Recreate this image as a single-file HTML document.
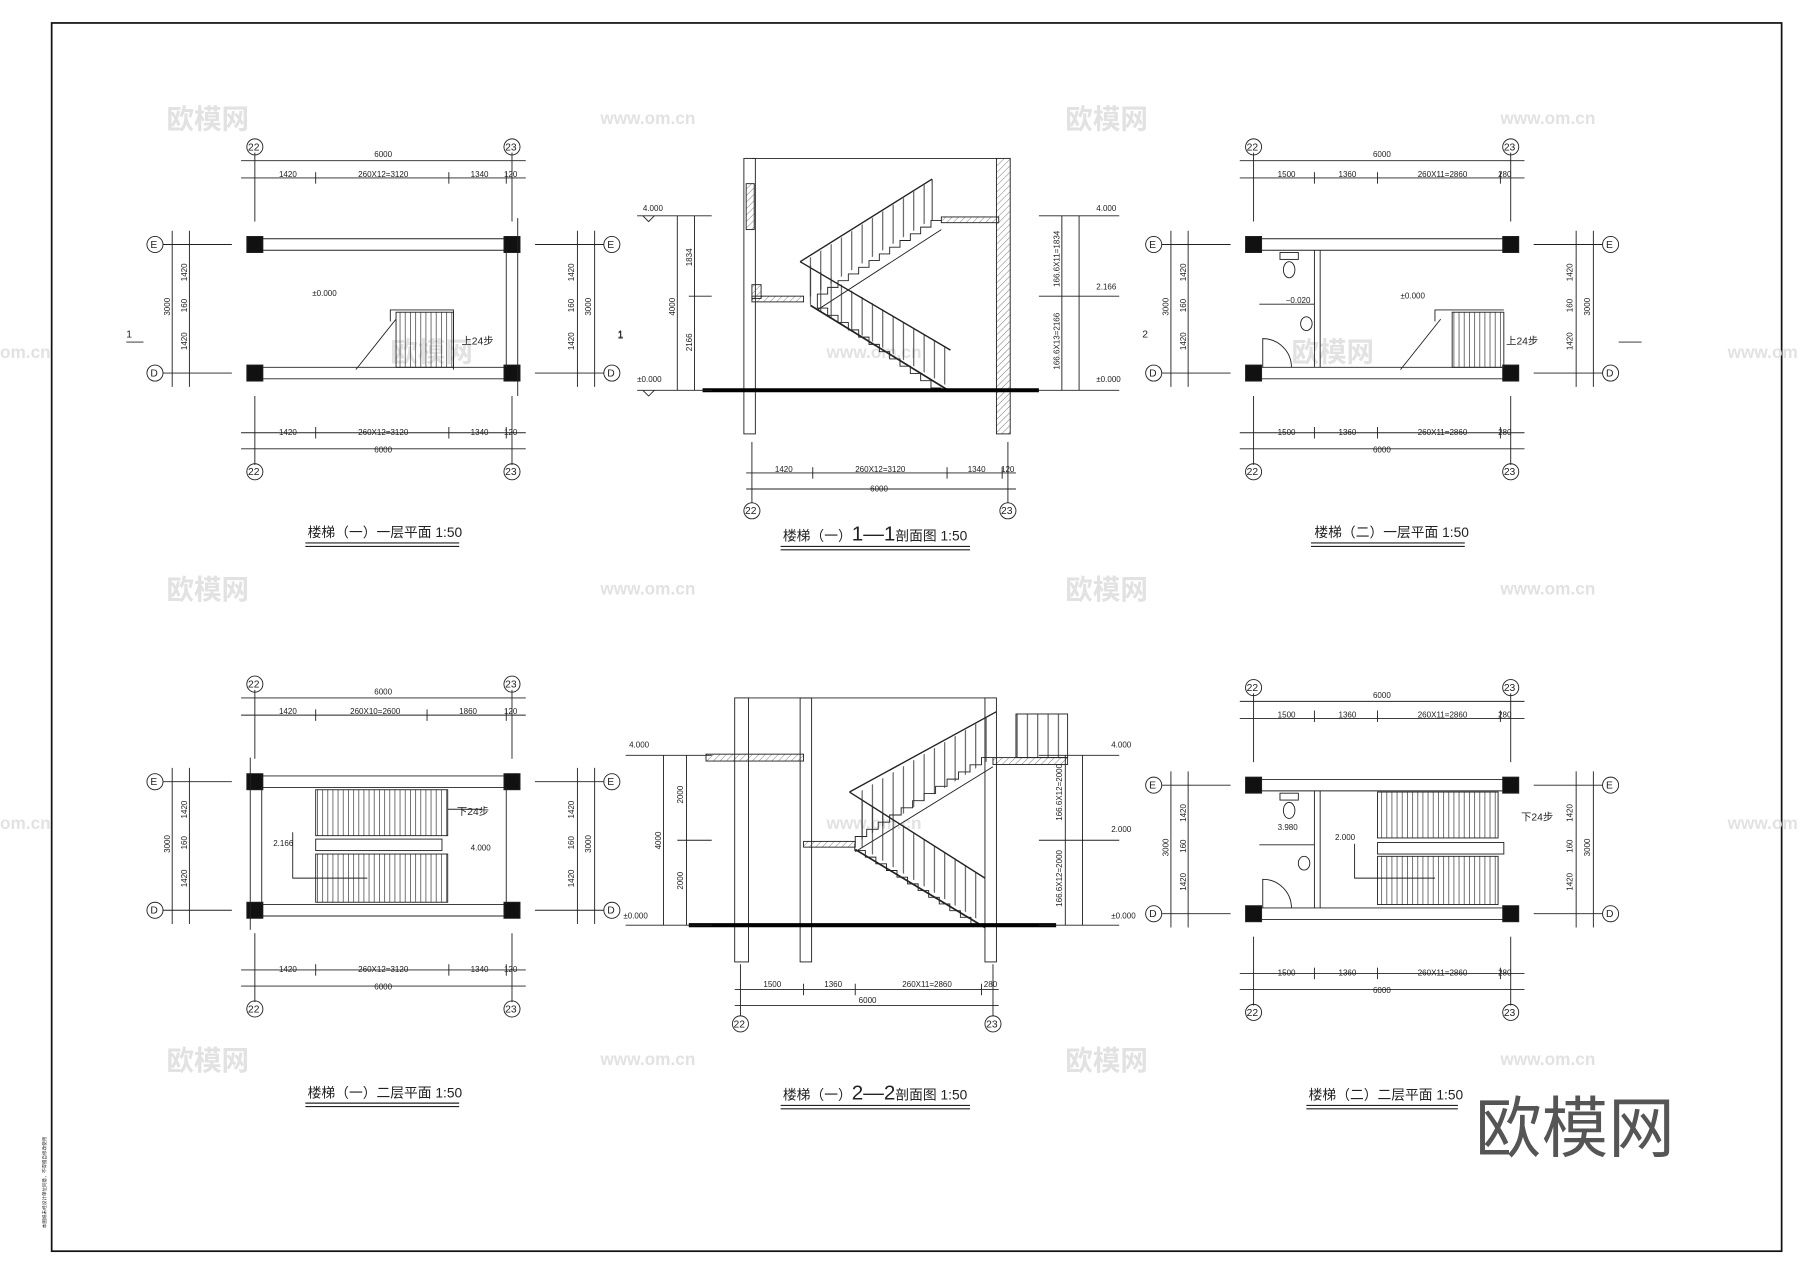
<!DOCTYPE html>
<html><head><meta charset="utf-8"><style>
html,body{margin:0;padding:0;background:#fff;}
svg{display:block;}
text{font-family:"Liberation Sans","Noto Sans CJK SC",sans-serif;fill:#222;}
.d{font-size:7px;}
.b{font-size:9px;}
.t{font-size:12px;}
.wm{font-size:24px;fill:#e2e2e2;font-weight:bold;}
.wu{font-size:15px;fill:#e2e2e2;font-weight:bold;}
</style></head><body>
<svg width="1800" height="1273" viewBox="0 0 1568 1109" preserveAspectRatio="none" xmlns="http://www.w3.org/2000/svg">
<defs>
<pattern id="vb" width="9" height="10" patternUnits="userSpaceOnUse"><line x1="4" y1="0" x2="4" y2="10" stroke="#333" stroke-width="0.8"/></pattern>
<pattern id="tr" width="4.5" height="10" patternUnits="userSpaceOnUse"><line x1="2" y1="0" x2="2" y2="10" stroke="#333" stroke-width="0.6"/></pattern>
<pattern id="ht" width="4" height="4" patternUnits="userSpaceOnUse" patternTransform="rotate(45)"><line x1="0" y1="0" x2="0" y2="4" stroke="#444" stroke-width="0.6"/></pattern>
<g id="frame" stroke="#222" fill="none" stroke-width="0.8">
<line x1="0" y1="-5" x2="224" y2="-5"/><line x1="0" y1="5" x2="224" y2="5"/>
<line x1="0" y1="107" x2="224" y2="107"/><line x1="0" y1="117" x2="224" y2="117"/>
<line x1="-12" y1="-73" x2="236" y2="-73"/><line x1="-12" y1="-58" x2="236" y2="-58"/>
<line x1="0" y1="-80" x2="0" y2="-20"/><line x1="224" y1="-80" x2="224" y2="-20"/>
<line x1="-12" y1="164" x2="236" y2="164"/><line x1="-12" y1="178" x2="236" y2="178"/>
<line x1="0" y1="132" x2="0" y2="192"/><line x1="224" y1="132" x2="224" y2="192"/>
<circle cx="0" cy="-85" r="7"/><circle cx="224" cy="-85" r="7"/>
<circle cx="0" cy="198" r="7"/><circle cx="224" cy="198" r="7"/>
<line x1="-80" y1="0" x2="-20" y2="0"/><line x1="-80" y1="112" x2="-20" y2="112"/>
<line x1="-57" y1="-12" x2="-57" y2="124"/><line x1="-72" y1="-12" x2="-72" y2="124"/>
<line x1="244" y1="0" x2="304" y2="0"/><line x1="244" y1="112" x2="304" y2="112"/>
<line x1="281" y1="-12" x2="281" y2="124"/><line x1="296" y1="-12" x2="296" y2="124"/>
<circle cx="-87" cy="0" r="7"/><circle cx="-87" cy="112" r="7"/>
<circle cx="311" cy="0" r="7"/><circle cx="311" cy="112" r="7"/>
<rect x="-7" y="-7" width="14" height="14" fill="#111"/><rect x="217" y="-7" width="14" height="14" fill="#111"/>
<rect x="-7" y="105" width="14" height="14" fill="#111"/><rect x="217" y="105" width="14" height="14" fill="#111"/>
</g>
</defs>
<rect x="45" y="20" width="1507" height="1070" fill="none" stroke="#111" stroke-width="1.5"/>

<!-- watermarks -->
<text class="wm" x="145" y="112">欧模网</text><text class="wm" x="928" y="112">欧模网</text>
<text class="wm" x="145" y="522">欧模网</text><text class="wm" x="928" y="522">欧模网</text>
<text class="wm" x="145" y="932">欧模网</text><text class="wm" x="928" y="932">欧模网</text>
<text class="wm" x="340" y="315">欧模网</text><text class="wm" x="1125" y="315">欧模网</text>
<text class="wu" x="523" y="108">www.om.cn</text><text class="wu" x="1307" y="108">www.om.cn</text>
<text class="wu" x="523" y="518">www.om.cn</text><text class="wu" x="1307" y="518">www.om.cn</text>
<text class="wu" x="523" y="928">www.om.cn</text><text class="wu" x="1307" y="928">www.om.cn</text>
<text class="wu" x="720" y="312">www.om.cn</text><text class="wu" x="720" y="722">www.om.cn</text>
<text class="wu" x="0" y="312">om.cn</text><text class="wu" x="1505" y="312">www.om</text>
<text class="wu" x="0" y="722">om.cn</text><text class="wu" x="1505" y="722">www.om</text>

<!-- PLAN 1 -->
<use href="#frame" x="222" y="213"/>
<g stroke="#222" fill="none" stroke-width="0.8">
<line x1="441" y1="218" x2="441" y2="320"/><line x1="451" y1="190" x2="451" y2="345"/>
<line x1="275" y1="150" x2="275" y2="160"/><line x1="391" y1="150" x2="391" y2="160"/><line x1="441" y1="150" x2="441" y2="160"/>
<line x1="275" y1="372" x2="275" y2="382"/><line x1="391" y1="372" x2="391" y2="382"/><line x1="441" y1="372" x2="441" y2="382"/>
<rect x="345" y="272" width="50" height="48" fill="url(#tr)"/>
<polyline points="395,322 395,270 340,270 340,280"/>
<line x1="310" y1="322" x2="345" y2="278"/>
<line x1="110" y1="298" x2="125" y2="298"/>
</g>
<text class="d" x="326" y="137">6000</text><text class="d" x="243" y="154">1420</text><text class="d" x="312" y="154">260X12=3120</text><text class="d" x="410" y="154">1340</text><text class="d" x="439" y="154">120</text>
<text class="d" x="243" y="379">1420</text><text class="d" x="312" y="379">260X12=3120</text><text class="d" x="410" y="379">1340</text><text class="d" x="439" y="379">120</text><text class="d" x="326" y="394">6000</text>
<text class="b" x="216" y="131">22</text><text class="b" x="440" y="131">23</text><text class="b" x="216" y="414">22</text><text class="b" x="440" y="414">23</text>
<text class="b" x="131" y="216">E</text><text class="b" x="131" y="328">D</text><text class="b" x="529" y="216">E</text><text class="b" x="529" y="328">D</text>
<text class="d" x="272" y="258">±0.000</text><text class="b" x="402" y="300">上24步</text><text class="b" x="110" y="294">1</text><text class="b" x="538" y="294">1</text>
<text class="d" transform="translate(163,245) rotate(-90)">1420</text><text class="d" transform="translate(163,272) rotate(-90)">160</text><text class="d" transform="translate(163,305) rotate(-90)">1420</text><text class="d" transform="translate(148,275) rotate(-90)">3000</text>
<text class="d" transform="translate(500,245) rotate(-90)">1420</text><text class="d" transform="translate(500,272) rotate(-90)">160</text><text class="d" transform="translate(500,305) rotate(-90)">1420</text><text class="d" transform="translate(515,275) rotate(-90)">3000</text>
<text class="t" x="268" y="468">楼梯（一）一层平面 1:50</text>
<line x1="266" y1="473" x2="400" y2="473" stroke="#222"/><line x1="266" y1="476" x2="400" y2="476" stroke="#222"/>

<!-- SECTION 1-1 -->
<g stroke="#222" fill="none" stroke-width="0.8">
<rect x="648" y="138" width="10" height="240"/><rect x="650" y="160" width="7" height="40" fill="url(#ht)"/>
<line x1="655" y1="138" x2="868" y2="138"/>
<rect x="868" y="138" width="12" height="240" fill="url(#ht)"/>
<rect x="655" y="258" width="45" height="5" fill="url(#ht)"/><rect x="655" y="248" width="8" height="12" fill="url(#ht)"/>
<rect x="820" y="189" width="50" height="5" fill="url(#ht)"/>
<path d="M820 338 h-9v-6.33h-9v-6.33h-9v-6.33h-9v-6.33h-9v-6.33h-9v-6.33h-9v-6.33h-9v-6.33h-9v-6.33h-9v-6.33h-9v-6.33h-9v-6.33"/>
<line x1="826" y1="340" x2="706" y2="266" stroke-width="1.5"/>
<path d="M712 262 v-5.83h9v-5.83h9v-5.83h9v-5.83h9v-5.83h9v-5.83h9v-5.83h9v-5.83h9v-5.83h9v-5.83h9v-5.83h9v-5.83h9"/>
<line x1="712" y1="270" x2="820" y2="200"/>
<polygon points="700,262 700,228 828,305 828,338" fill="url(#vb)" stroke="none"/>
<line x1="697" y1="228" x2="828" y2="305" stroke-width="1.2"/>
<polygon points="700,228 810,158 810,192 700,262" fill="url(#vb)" stroke="none"/>
<line x1="697" y1="228" x2="812" y2="156" stroke-width="1.2"/><line x1="812" y1="156" x2="812" y2="192"/>
<line x1="612" y1="340" x2="905" y2="340" stroke="#000" stroke-width="3.5"/>
<line x1="555" y1="188" x2="620" y2="188"/><line x1="555" y1="340" x2="620" y2="340"/><line x1="590" y1="188" x2="590" y2="340"/><line x1="605" y1="188" x2="605" y2="340"/><line x1="600" y1="258" x2="620" y2="258"/>
<line x1="905" y1="188" x2="975" y2="188"/><line x1="905" y1="258" x2="975" y2="258"/><line x1="905" y1="340" x2="975" y2="340"/><line x1="925" y1="188" x2="925" y2="340"/><line x1="940" y1="188" x2="940" y2="340"/>
<line x1="650" y1="412" x2="885" y2="412"/><line x1="650" y1="426" x2="885" y2="426"/>
<line x1="655" y1="385" x2="655" y2="438"/><line x1="878" y1="385" x2="878" y2="438"/><line x1="708" y1="407" x2="708" y2="417"/><line x1="825" y1="407" x2="825" y2="417"/><line x1="873" y1="407" x2="873" y2="417"/>
<circle cx="655" cy="445" r="7"/><circle cx="878" cy="445" r="7"/>
<polyline points="560,188 565,193 570,188"/><polyline points="560,340 565,345 570,340"/>
</g>
<text class="d" x="560" y="184">4.000</text><text class="d" x="555" y="333">±0.000</text>
<text class="d" x="955" y="184">4.000</text><text class="d" x="955" y="252">2.166</text><text class="d" x="955" y="333">±0.000</text>
<text class="d" transform="translate(588,275) rotate(-90)">4000</text><text class="d" transform="translate(603,232) rotate(-90)">1834</text><text class="d" transform="translate(603,306) rotate(-90)">2166</text>
<text class="d" transform="translate(923,250) rotate(-90)">166.6X11=1834</text><text class="d" transform="translate(923,322) rotate(-90)">166.6X13=2166</text>
<text class="b" x="538" y="295">1</text>
<text class="d" x="675" y="411">1420</text><text class="d" x="745" y="411">260X12=3120</text><text class="d" x="843" y="411">1340</text><text class="d" x="872" y="411">120</text><text class="d" x="758" y="428">6000</text>
<text class="b" x="649" y="448">22</text><text class="b" x="872" y="448">23</text>
<text class="t" x="682" y="471">楼梯（一）<tspan font-size="18">1—1</tspan>剖面图 1:50</text>
<line x1="680" y1="476" x2="845" y2="476" stroke="#222"/><line x1="680" y1="479" x2="845" y2="479" stroke="#222"/>

<!-- PLAN 2 (top right) -->
<use href="#frame" x="1092" y="213"/>
<g stroke="#222" fill="none" stroke-width="0.8">
<line x1="1150" y1="218" x2="1150" y2="320"/><line x1="1145" y1="218" x2="1145" y2="320"/>
<line x1="1097" y1="265" x2="1145" y2="265"/>
<ellipse cx="1123" cy="235" rx="5" ry="7"/><rect x="1115" y="220" width="16" height="6"/>
<ellipse cx="1138" cy="282" rx="5" ry="6"/>
<path d="M1100 320 v-25 a25 25 0 0 1 25 25"/>
<rect x="1265" y="272" width="45" height="48" fill="url(#tr)"/>
<polyline points="1310,270 1250,270 1250,280"/>
<line x1="1220" y1="322" x2="1255" y2="278"/>
<line x1="1145" y1="150" x2="1145" y2="160"/><line x1="1200" y1="150" x2="1200" y2="160"/><line x1="1307" y1="150" x2="1307" y2="160"/>
<line x1="1145" y1="372" x2="1145" y2="382"/><line x1="1200" y1="372" x2="1200" y2="382"/><line x1="1307" y1="372" x2="1307" y2="382"/>
<line x1="1410" y1="298" x2="1430" y2="298"/>
</g>
<text class="d" x="1196" y="137">6000</text><text class="d" x="1113" y="154">1500</text><text class="d" x="1166" y="154">1360</text><text class="d" x="1235" y="154">260X11=2860</text><text class="d" x="1305" y="154">280</text>
<text class="d" x="1113" y="379">1500</text><text class="d" x="1166" y="379">1360</text><text class="d" x="1235" y="379">260X11=2860</text><text class="d" x="1305" y="379">280</text><text class="d" x="1196" y="394">6000</text>
<text class="b" x="1086" y="131">22</text><text class="b" x="1310" y="131">23</text><text class="b" x="1086" y="414">22</text><text class="b" x="1310" y="414">23</text>
<text class="b" x="1001" y="216">E</text><text class="b" x="1001" y="328">D</text><text class="b" x="1399" y="216">E</text><text class="b" x="1399" y="328">D</text>
<text class="d" x="1120" y="264">−0.020</text><text class="d" x="1220" y="260">±0.000</text><text class="b" x="1312" y="300">上24步</text><text class="b" x="995" y="294">2</text>
<text class="d" transform="translate(1033,245) rotate(-90)">1420</text><text class="d" transform="translate(1033,272) rotate(-90)">160</text><text class="d" transform="translate(1033,305) rotate(-90)">1420</text><text class="d" transform="translate(1018,275) rotate(-90)">3000</text>
<text class="d" transform="translate(1370,245) rotate(-90)">1420</text><text class="d" transform="translate(1370,272) rotate(-90)">160</text><text class="d" transform="translate(1370,305) rotate(-90)">1420</text><text class="d" transform="translate(1385,275) rotate(-90)">3000</text>
<text class="t" x="1145" y="468">楼梯（二）一层平面 1:50</text>
<line x1="1142" y1="473" x2="1276" y2="473" stroke="#222"/><line x1="1142" y1="476" x2="1276" y2="476" stroke="#222"/>

<!-- PLAN 3 (bottom left) -->
<use href="#frame" x="222" y="681"/>
<g stroke="#222" fill="none" stroke-width="0.8">
<line x1="218" y1="660" x2="218" y2="810"/><line x1="228" y1="686" x2="228" y2="788"/>
<line x1="441" y1="686" x2="441" y2="788"/>
<rect x="275" y="688" width="115" height="40" fill="url(#tr)"/>
<rect x="275" y="744" width="115" height="42" fill="url(#tr)"/>
<rect x="275" y="731" width="110" height="10"/>
<polyline points="255,725 255,765 320,765"/><polyline points="390,705 420,705"/>
<line x1="275" y1="618" x2="275" y2="628"/><line x1="372" y1="618" x2="372" y2="628"/><line x1="441" y1="618" x2="441" y2="628"/>
<line x1="275" y1="840" x2="275" y2="850"/><line x1="391" y1="840" x2="391" y2="850"/><line x1="441" y1="840" x2="441" y2="850"/>
</g>
<text class="d" x="326" y="605">6000</text><text class="d" x="243" y="622">1420</text><text class="d" x="305" y="622">260X10=2600</text><text class="d" x="400" y="622">1860</text><text class="d" x="439" y="622">120</text>
<text class="d" x="243" y="847">1420</text><text class="d" x="312" y="847">260X12=3120</text><text class="d" x="410" y="847">1340</text><text class="d" x="439" y="847">120</text><text class="d" x="326" y="862">6000</text>
<text class="b" x="216" y="599">22</text><text class="b" x="440" y="599">23</text><text class="b" x="216" y="882">22</text><text class="b" x="440" y="882">23</text>
<text class="b" x="131" y="684">E</text><text class="b" x="131" y="796">D</text><text class="b" x="529" y="684">E</text><text class="b" x="529" y="796">D</text>
<text class="d" x="238" y="737">2.166</text><text class="d" x="410" y="741">4.000</text><text class="b" x="398" y="710">下24步</text>
<text class="d" transform="translate(163,713) rotate(-90)">1420</text><text class="d" transform="translate(163,740) rotate(-90)">160</text><text class="d" transform="translate(163,773) rotate(-90)">1420</text><text class="d" transform="translate(148,743) rotate(-90)">3000</text>
<text class="d" transform="translate(500,713) rotate(-90)">1420</text><text class="d" transform="translate(500,740) rotate(-90)">160</text><text class="d" transform="translate(500,773) rotate(-90)">1420</text><text class="d" transform="translate(515,743) rotate(-90)">3000</text>
<text class="t" x="268" y="956">楼梯（一）二层平面 1:50</text>
<line x1="266" y1="961" x2="400" y2="961" stroke="#222"/><line x1="266" y1="964" x2="400" y2="964" stroke="#222"/>

<!-- SECTION 2-2 -->
<g stroke="#222" fill="none" stroke-width="0.8">
<rect x="640" y="608" width="12" height="230"/><rect x="697" y="608" width="10" height="230"/><rect x="858" y="608" width="10" height="230"/>
<line x1="652" y1="608" x2="858" y2="608"/>
<rect x="615" y="657" width="85" height="6" fill="url(#ht)"/>
<rect x="700" y="733" width="45" height="5" fill="url(#ht)"/>
<rect x="865" y="660" width="65" height="6" fill="url(#ht)"/>
<path d="M855 805 h-9.2v-5.83h-9.2v-5.83h-9.2v-5.83h-9.2v-5.83h-9.2v-5.83h-9.2v-5.83h-9.2v-5.83h-9.2v-5.83h-9.2v-5.83h-9.2v-5.83h-9.2v-5.83h-9.2v-5.83"/>
<line x1="858" y1="808" x2="745" y2="740" stroke-width="1.5"/>
<path d="M745 735 v-6.25h10v-6.25h10v-6.25h10v-6.25h10v-6.25h10v-6.25h10v-6.25h10v-6.25h10v-6.25h10v-6.25h10v-6.25h10v-6.25h10"/>
<line x1="745" y1="742" x2="865" y2="668"/>
<polygon points="745,735 745,692 858,765 858,805" fill="url(#vb)" stroke="none"/>
<line x1="740" y1="690" x2="858" y2="765" stroke-width="1.2"/>
<polygon points="745,692 865,622 865,660 745,735" fill="url(#vb)" stroke="none"/>
<line x1="740" y1="690" x2="868" y2="620" stroke-width="1.2"/>
<rect x="885" y="622" width="45" height="38" fill="url(#vb)"/>
<line x1="600" y1="806" x2="920" y2="806" stroke="#000" stroke-width="3.5"/>
<line x1="545" y1="658" x2="620" y2="658"/><line x1="545" y1="806" x2="620" y2="806"/><line x1="578" y1="658" x2="578" y2="806"/><line x1="598" y1="658" x2="598" y2="806"/><line x1="590" y1="732" x2="620" y2="732"/>
<line x1="905" y1="658" x2="975" y2="658"/><line x1="905" y1="732" x2="975" y2="732"/><line x1="905" y1="806" x2="975" y2="806"/><line x1="928" y1="658" x2="928" y2="806"/><line x1="943" y1="658" x2="943" y2="806"/>
<line x1="640" y1="862" x2="870" y2="862"/><line x1="640" y1="876" x2="870" y2="876"/>
<line x1="645" y1="840" x2="645" y2="885"/><line x1="865" y1="840" x2="865" y2="885"/><line x1="700" y1="857" x2="700" y2="867"/><line x1="745" y1="857" x2="745" y2="867"/><line x1="855" y1="857" x2="855" y2="867"/>
<circle cx="645" cy="892" r="7"/><circle cx="865" cy="892" r="7"/>
</g>
<text class="d" x="548" y="651">4.000</text><text class="d" x="543" y="800">±0.000</text>
<text class="d" x="968" y="651">4.000</text><text class="d" x="968" y="725">2.000</text><text class="d" x="968" y="800">±0.000</text>
<text class="d" transform="translate(576,740) rotate(-90)">4000</text><text class="d" transform="translate(595,700) rotate(-90)">2000</text><text class="d" transform="translate(595,775) rotate(-90)">2000</text>
<text class="d" transform="translate(925,715) rotate(-90)">166.6X12=2000</text><text class="d" transform="translate(925,790) rotate(-90)">166.6X12=2000</text>
<text class="d" x="665" y="860">1500</text><text class="d" x="718" y="860">1360</text><text class="d" x="786" y="860">260X11=2860</text><text class="d" x="857" y="860">280</text><text class="d" x="748" y="874">6000</text>
<text class="b" x="639" y="895">22</text><text class="b" x="859" y="895">23</text>
<text class="t" x="682" y="958">楼梯（一）<tspan font-size="18">2—2</tspan>剖面图 1:50</text>
<line x1="680" y1="963" x2="845" y2="963" stroke="#222"/><line x1="680" y1="966" x2="845" y2="966" stroke="#222"/>

<!-- PLAN 4 (bottom right) -->
<use href="#frame" x="1092" y="684"/>
<g stroke="#222" fill="none" stroke-width="0.8">
<line x1="1145" y1="689" x2="1145" y2="791"/><line x1="1150" y1="689" x2="1150" y2="791"/>
<line x1="1097" y1="736" x2="1145" y2="736"/>
<ellipse cx="1123" cy="706" rx="5" ry="7"/><rect x="1115" y="691" width="16" height="6"/>
<ellipse cx="1136" cy="752" rx="5" ry="6"/>
<path d="M1100 791 v-25 a25 25 0 0 1 25 25"/>
<rect x="1200" y="690" width="105" height="40" fill="url(#tr)"/>
<rect x="1200" y="746" width="105" height="42" fill="url(#tr)"/>
<rect x="1200" y="734" width="110" height="10"/>
<polyline points="1180,735 1180,765 1250,765"/>
<line x1="1145" y1="619" x2="1145" y2="629"/><line x1="1200" y1="619" x2="1200" y2="629"/><line x1="1307" y1="619" x2="1307" y2="629"/>
<line x1="1145" y1="843" x2="1145" y2="853"/><line x1="1200" y1="843" x2="1200" y2="853"/><line x1="1307" y1="843" x2="1307" y2="853"/>
</g>
<text class="d" x="1196" y="608">6000</text><text class="d" x="1113" y="625">1500</text><text class="d" x="1166" y="625">1360</text><text class="d" x="1235" y="625">260X11=2860</text><text class="d" x="1305" y="625">280</text>
<text class="d" x="1113" y="850">1500</text><text class="d" x="1166" y="850">1360</text><text class="d" x="1235" y="850">260X11=2860</text><text class="d" x="1305" y="850">280</text><text class="d" x="1196" y="865">6000</text>
<text class="b" x="1086" y="602">22</text><text class="b" x="1310" y="602">23</text><text class="b" x="1086" y="885">22</text><text class="b" x="1310" y="885">23</text>
<text class="b" x="1001" y="687">E</text><text class="b" x="1001" y="799">D</text><text class="b" x="1399" y="687">E</text><text class="b" x="1399" y="799">D</text>
<text class="d" x="1113" y="723">3.980</text><text class="d" x="1163" y="732">2.000</text><text class="b" x="1325" y="715">下24步</text>
<text class="d" transform="translate(1033,716) rotate(-90)">1420</text><text class="d" transform="translate(1033,743) rotate(-90)">160</text><text class="d" transform="translate(1033,776) rotate(-90)">1420</text><text class="d" transform="translate(1018,746) rotate(-90)">3000</text>
<text class="d" transform="translate(1370,716) rotate(-90)">1420</text><text class="d" transform="translate(1370,743) rotate(-90)">160</text><text class="d" transform="translate(1370,776) rotate(-90)">1420</text><text class="d" transform="translate(1385,746) rotate(-90)">3000</text>
<text class="t" x="1140" y="958">楼梯（二）二层平面 1:50</text>
<line x1="1138" y1="963" x2="1270" y2="963" stroke="#222"/><line x1="1138" y1="966" x2="1270" y2="966" stroke="#222"/>

<text x="1285" y="1003" style="font-size:58px;fill:#555;">欧模网</text>
<text transform="translate(40,1070) rotate(-90)" style="font-size:4px;">本图纸未经设计单位同意，不得擅自修改使用</text>
</svg>
</body></html>
